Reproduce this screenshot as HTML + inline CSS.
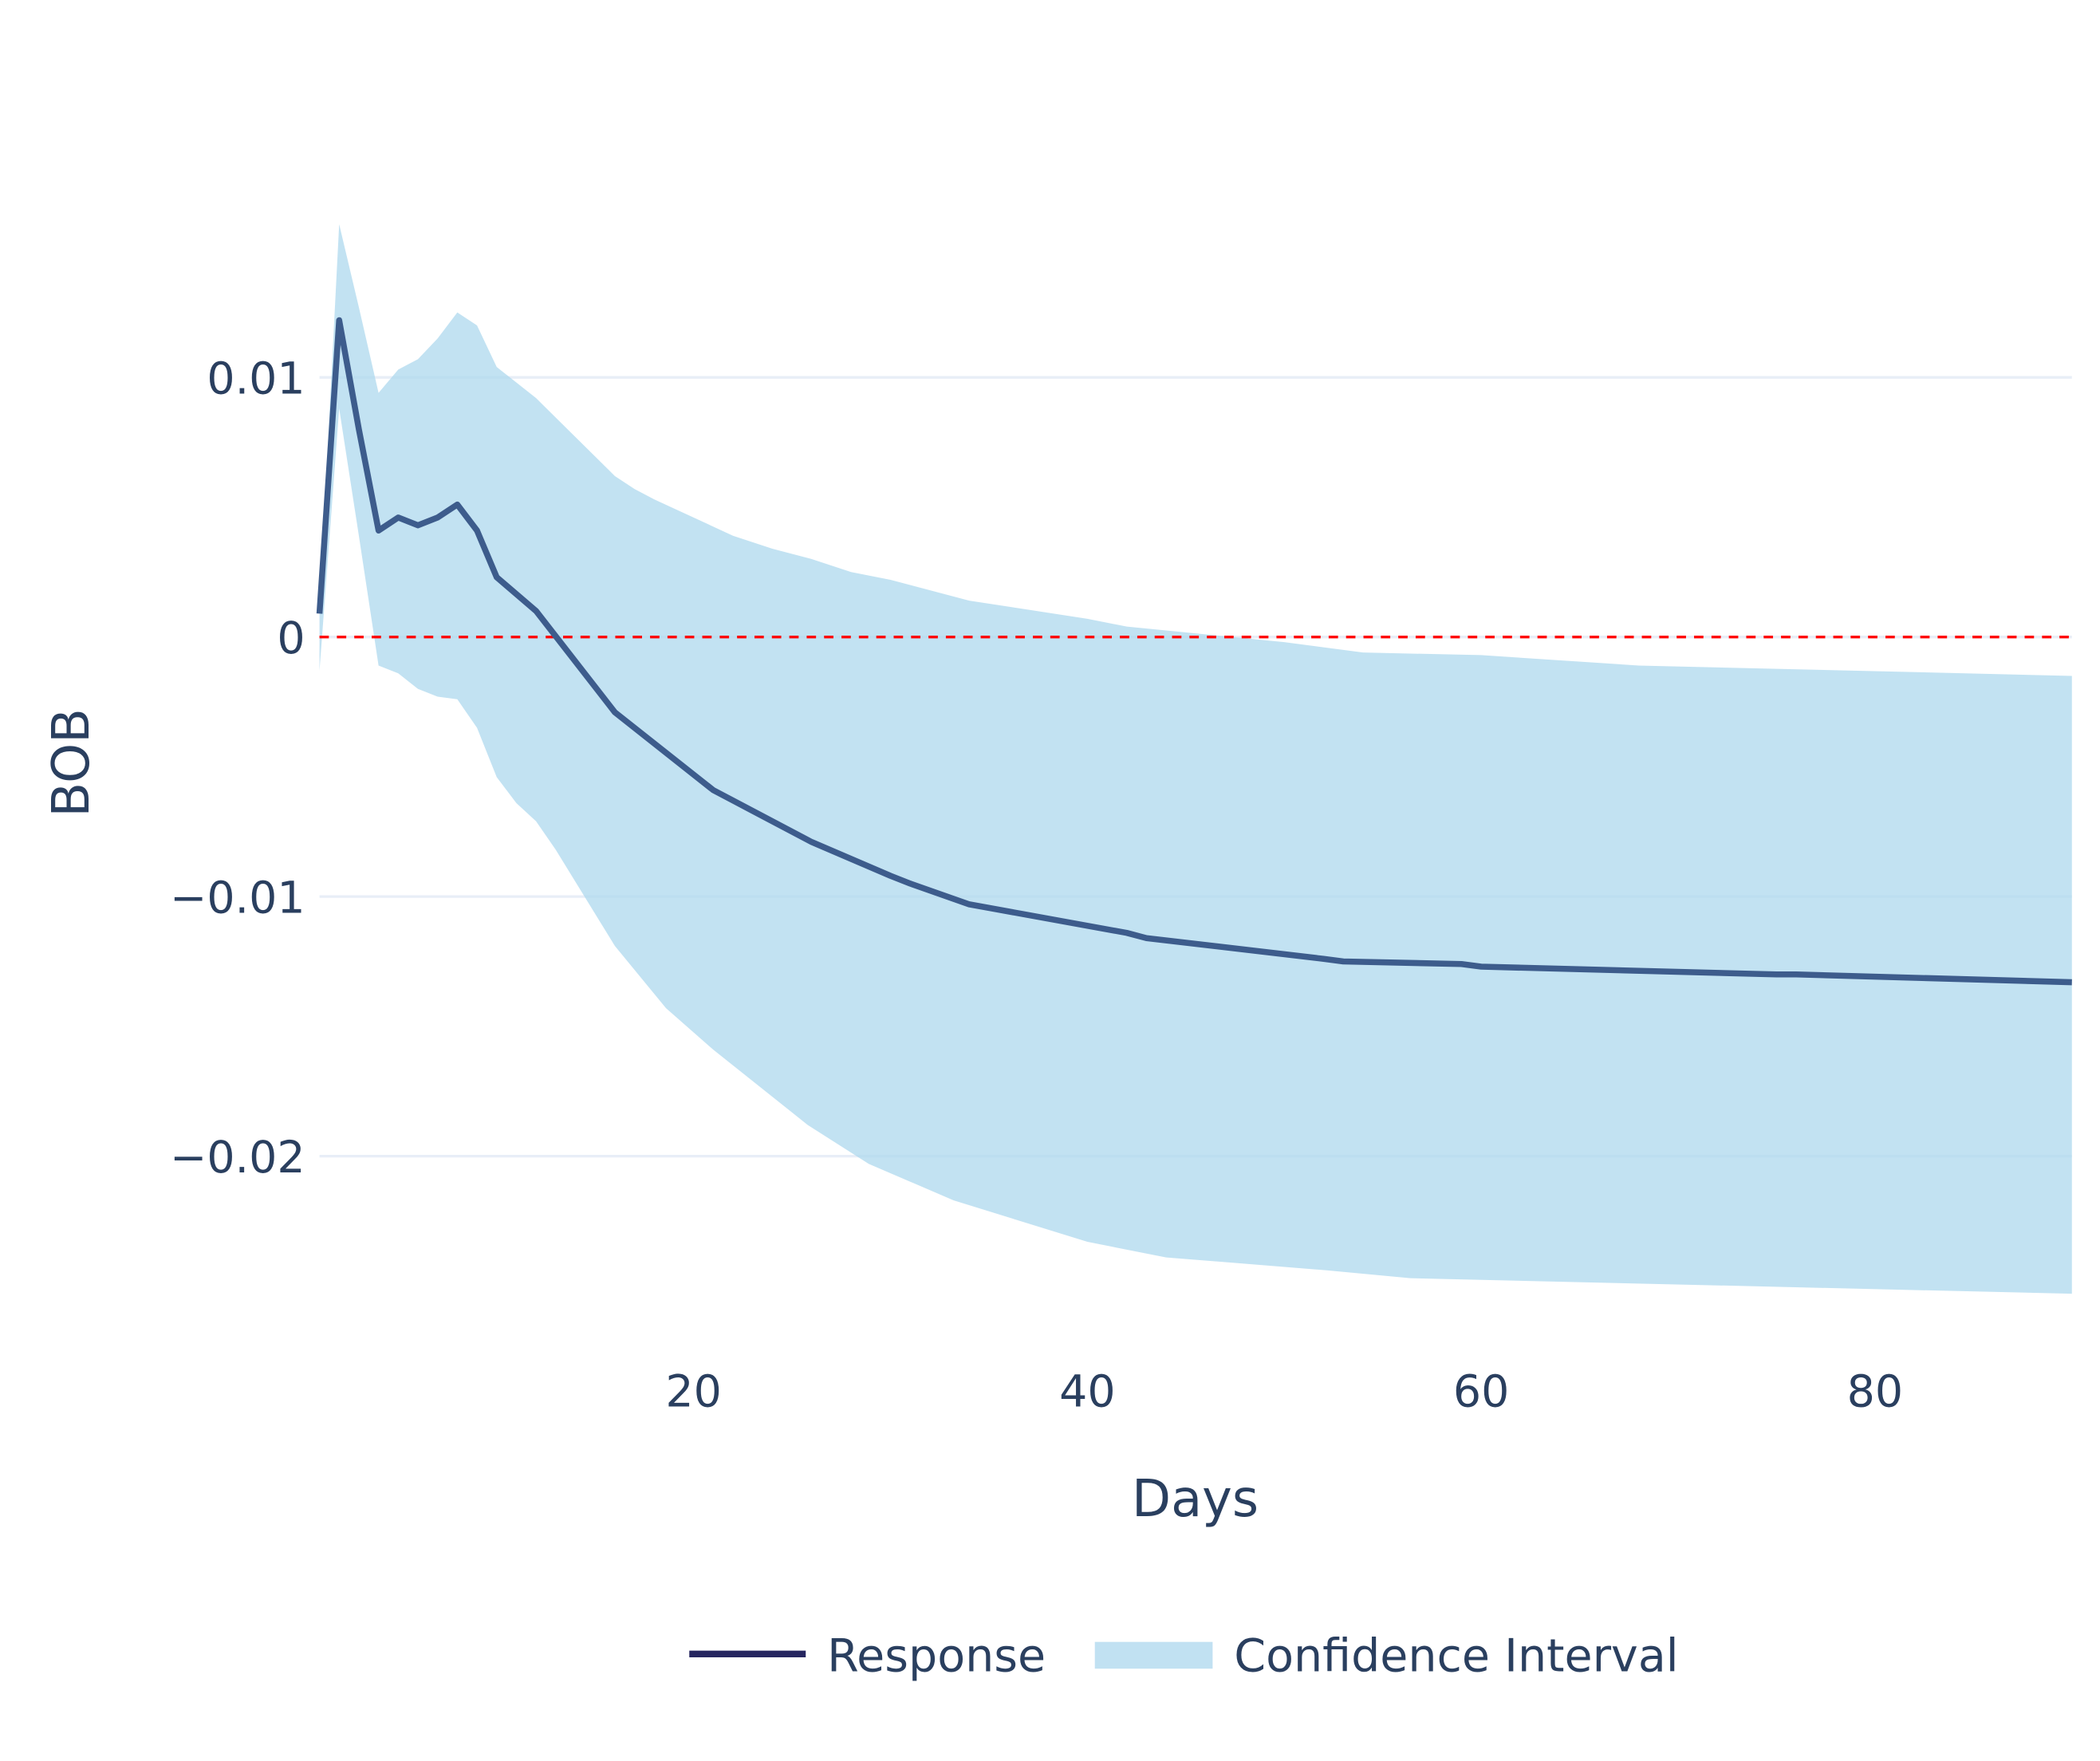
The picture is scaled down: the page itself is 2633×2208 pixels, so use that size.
<!DOCTYPE html>
<html><head><meta charset="utf-8"><style>html,body{margin:0;padding:0;background:#fff}svg{display:block}</style></head>
<body>
<svg id="chart" width="2633" height="2208" viewBox="0 0 1569 1316" preserveAspectRatio="none" xmlns="http://www.w3.org/2000/svg" font-family="'DejaVu Sans', 'Liberation Sans', sans-serif">
<rect width="1569" height="1316" fill="#fff"/>
<g id="grid"></g>
<g id="plot"></g>
<g id="axes"></g>
<text transform="translate(66,570) rotate(-90)" text-anchor="middle" font-size="38" fill="#2a3f5f">BOB</text>
<text x="893" y="1133" text-anchor="middle" font-size="38" fill="#2a3f5f">Days</text>
<g>
<g>
<line x1="515" y1="1236" x2="602" y2="1236" stroke="#262660" stroke-width="5"/>
<text x="618" y="1249" font-size="34" fill="#2a3f5f">Response</text></g>
<g>
<rect x="818" y="1227" width="88" height="20" fill="#c1e1f2"/>
<text x="922" y="1249" font-size="34" fill="#2a3f5f">Confidence Interval</text></g>
</g>
</svg>
<script>
const days = [1,2,3,4,5,6,7,8,9,10,12,16,21,22,26,30,31,34,42,43,52,53,59,60,75,76,90];
const response = [0.0009,0.0122,0.0080,0.0041,0.0046,0.0043,0.0046,0.0051,0.0041,0.0023,0.0010,-0.0029,-0.0059,-0.0063,-0.0079,-0.0092,-0.0095,-0.0103,-0.0114,-0.0116,-0.0124,-0.0125,-0.0126,-0.0127,-0.0130,-0.0130,-0.0133];
const ciUpperDays = [1,2,3,4,5,6,7,8,9,10,12,16,17,18,20,22,24,26,28,30,34,40,42,46,50,54,60,68,90];
const ciUpper = [0.0011,0.0159,0.0127,0.0094,0.0103,0.0107,0.0115,0.0125,0.0120,0.0104,0.0092,0.0062,0.0057,0.0053,0.0046,0.0039,0.0034,0.0030,0.0025,0.0022,0.0014,0.0007,0.0004,0.0001,-0.0002,-0.0006,-0.0007,-0.0011,-0.0015];
const ciLowerDays = [1,2,3,4,5,6,7,8,9,10,11,12,13,16,18.6,21,25.8,28.9,33.2,40,44,52.2,56.4,90];
const ciLower = [-0.0013,0.0088,0.0039,-0.0011,-0.0014,-0.0020,-0.0023,-0.0024,-0.0035,-0.0054,-0.0064,-0.0071,-0.0082,-0.0119,-0.0143,-0.0159,-0.0188,-0.0203,-0.0217,-0.0233,-0.0239,-0.0244,-0.0247,-0.0253];
const xTicks = [20,40,60,80];
const yTicks = [0.01,0,-0.01,-0.02];
const yTickLabels = ["0.01","0","\u22120.01","\u22120.02"];

const NS="http://www.w3.org/2000/svg";
const X0=238.7,X1=1548,Y0=476,YS=19400;
const xs=d=>X0+(d-1)*(X1-X0)/89;
const ys=v=>Y0-v*YS;
function mk(tag,attrs,parent){const e=document.createElementNS(NS,tag);for(const k in attrs)e.setAttribute(k,attrs[k]);parent.appendChild(e);return e;}
const grid=document.getElementById('grid'),plot=document.getElementById('plot'),axes=document.getElementById('axes');
yTicks.forEach((t,i)=>{
  const g=mk('line',{x1:X0,x2:X1,y1:ys(t),y2:ys(t),stroke:'#e8eef7','stroke-width':2},grid);
  
  
  const tx=mk('text',{x:228,y:ys(t)+12,'text-anchor':'end','font-size':33,fill:'#2a3f5f'},axes);
  tx.textContent=yTickLabels[i];
  
  
});
xTicks.forEach(t=>{
  const tx=mk('text',{x:xs(t),y:1051,'text-anchor':'middle','font-size':33,fill:'#2a3f5f'},axes);
  tx.textContent=t;
  
  
});
let d='M'+ciUpperDays.map((x,i)=>xs(x)+','+ys(ciUpper[i])).join('L');
for(let i=ciLowerDays.length-1;i>=0;i--)d+='L'+xs(ciLowerDays[i])+','+ys(ciLower[i]);
d+='Z';
const band=mk('path',{d:d,fill:'rgba(173,216,238,0.75)'},plot);


const zl=mk('line',{x1:X0,x2:X1,y1:ys(0),y2:ys(0),stroke:'#ff0000','stroke-width':2,'stroke-dasharray':'7,6'},plot);


const ln=mk('polyline',{points:days.map((x,i)=>xs(x)+','+ys(response[i])).join(' '),fill:'none',stroke:'#3d5c8c','stroke-width':4.5,'stroke-linejoin':'round'},plot);


</script>
</body></html>
